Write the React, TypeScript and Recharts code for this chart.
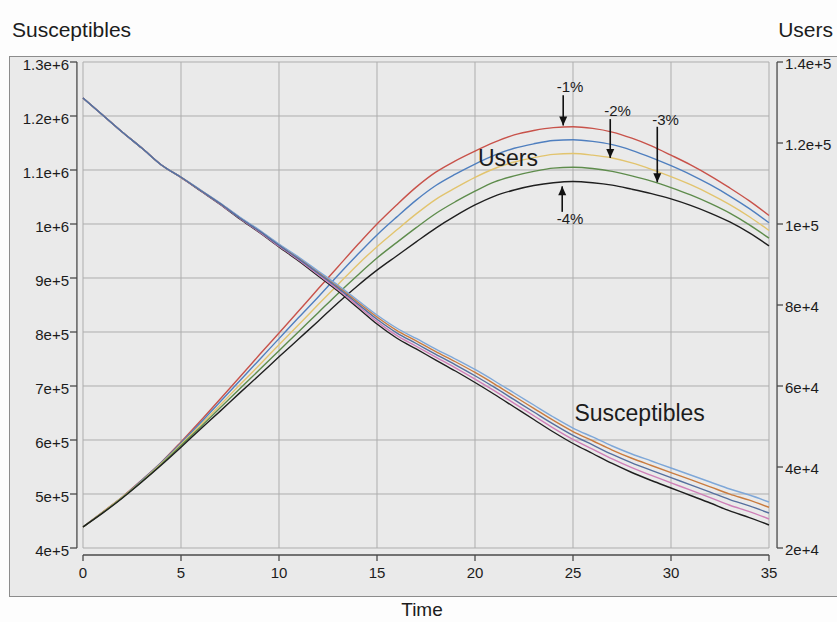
import { LineChart, Line, XAxis, YAxis, CartesianGrid, ReferenceLine, ReferenceDot } from 'recharts'

const TIME = [0, 1, 2, 3, 4, 5, 6, 7, 8, 9, 10, 11, 12, 13, 14, 15, 16, 17, 18, 19, 20, 21, 22, 23, 24, 25, 26, 27, 28, 29, 30, 31, 32, 33, 34, 35]

// Users (right axis)
const U_RED = [25200, 28900, 32600, 36800, 41200, 46200, 51400, 56800, 62200, 67700, 73100, 78500, 84000, 89400, 94800, 100000, 104700, 109100, 112800, 115600, 118000, 120200, 122000, 123100, 123800, 124000, 123600, 122700, 121200, 119300, 117000, 114600, 111900, 108900, 105700, 102100]
const U_BLUE = [25200, 28800, 32500, 36700, 41100, 45900, 50900, 56100, 61300, 66500, 71700, 76900, 82000, 87300, 92400, 97300, 101700, 105900, 109500, 112300, 114800, 117000, 118700, 119800, 120600, 120800, 120400, 119600, 118200, 116400, 114400, 112200, 109700, 106900, 103800, 100300]
const U_YELLOW = [25200, 28800, 32500, 36500, 40900, 45600, 50400, 55300, 60300, 65200, 70200, 75100, 80100, 85000, 89900, 94400, 98500, 102500, 106100, 108900, 111500, 113700, 115300, 116400, 117200, 117400, 117000, 116300, 115100, 113500, 111700, 109700, 107400, 104800, 101800, 98400]
const U_GREEN = [25200, 28700, 32400, 36400, 40700, 45300, 49900, 54600, 59300, 64000, 68700, 73400, 78100, 82800, 87300, 91600, 95400, 99100, 102600, 105500, 108100, 110400, 111900, 113000, 113800, 114000, 113700, 113000, 111900, 110600, 109000, 107200, 105100, 102700, 99800, 96500]
const U_BLACK = [25200, 28600, 32300, 36300, 40500, 44900, 49400, 53800, 58300, 62700, 67200, 71600, 76000, 80500, 84700, 88600, 92100, 95600, 99000, 102000, 104700, 106900, 108400, 109500, 110200, 110500, 110200, 109600, 108600, 107500, 106200, 104600, 102700, 100500, 97800, 94600]

// Susceptibles (left axis)
const S_LIGHTBLUE = [1233300, 1201900, 1170400, 1140700, 1109300, 1087000, 1063000, 1038900, 1013000, 988900, 963000, 938900, 913000, 887000, 859300, 831500, 807400, 788000, 768500, 750000, 730600, 709300, 687000, 664800, 642600, 622200, 605600, 588900, 574100, 561100, 548100, 535200, 522200, 509300, 498100, 485200]
const S_ORANGE = [1233300, 1201900, 1170400, 1140700, 1109300, 1086800, 1062600, 1038300, 1012100, 987800, 961700, 937200, 910900, 884400, 856100, 827700, 803100, 783500, 763800, 744900, 725100, 703600, 681000, 658600, 636200, 615600, 598600, 581400, 566200, 552800, 539600, 526500, 513300, 499900, 488500, 475400]
const S_BLUE = [1233300, 1201900, 1170400, 1140700, 1109300, 1086600, 1062100, 1037600, 1011200, 986700, 960300, 935300, 908600, 881700, 852600, 823500, 798500, 778700, 758700, 739300, 719000, 697300, 674600, 651900, 629300, 608400, 590900, 573300, 557700, 543800, 530300, 517000, 503500, 489700, 478100, 464800]
const S_PINK = [1233300, 1201900, 1170400, 1140700, 1109300, 1086300, 1061600, 1036800, 1010300, 985500, 958900, 933400, 906100, 878800, 849000, 819200, 793700, 773600, 753400, 733600, 712800, 690800, 667800, 644900, 622000, 601000, 583000, 564900, 548700, 534400, 520700, 507100, 493400, 479200, 467300, 453700]
const S_BLACK = [1233300, 1201900, 1170400, 1140700, 1109300, 1086100, 1061100, 1036100, 1009300, 984300, 957400, 931500, 903700, 875900, 845400, 814800, 788900, 768600, 748100, 727800, 706500, 684300, 661100, 637900, 614800, 593500, 575000, 556500, 539800, 525000, 511100, 497200, 483300, 468600, 456400, 442600]

const T_TICKS = [0, 5, 10, 15, 20, 25, 30, 35]
const S_TICKS = [400000, 500000, 600000, 700000, 800000, 900000, 1000000, 1100000, 1200000, 1300000]
const U_TICKS = [20000, 40000, 60000, 80000, 100000, 120000, 140000]

// annotation arrows (on the Users axis)
const ARROW_LABELS = ['-1%', '-2%', '-3%', '-4%']
const ARROW_T = [24.5, 26.9, 29.3, 24.45]
const ARROW_TAIL = [131800, 125900, 124000, 103000]
const ARROW_TIP = [124300, 116300, 110300, 109300]
const LABEL_T = [24.85, 27.27, 29.72, 24.85]
const LABEL_V = [133900, 128000, 125900, 101400]

const FONT = '"Liberation Sans", Arial, sans-serif'
const AXIS = '#4a4a4a'
const TEXT = '#1c1c1c'

const data = TIME.map((t, i) => ({
  t,
  uRed: U_RED[i],
  uBlue: U_BLUE[i],
  uYellow: U_YELLOW[i],
  uGreen: U_GREEN[i],
  uBlack: U_BLACK[i],
  sLight: S_LIGHTBLUE[i],
  sOrange: S_ORANGE[i],
  sBlue: S_BLUE[i],
  sPink: S_PINK[i],
  sBlack: S_BLACK[i],
}))

const sci = (v: number) => v.toExponential()

function LeftTick(props: any) {
  const { x, y, payload } = props
  return (
    <g>
      <line x1={x - 13} x2={x - 6} y1={y} y2={y} stroke={AXIS} strokeWidth={1.3} />
      <text x={x - 14} y={y + 8} textAnchor="end" fontSize={15} fontFamily={FONT} fill={TEXT}>
        {sci(payload.value)}
      </text>
    </g>
  )
}

function RightTick(props: any) {
  const { x, y, payload } = props
  return (
    <g>
      <line x1={x + 8} x2={x + 14} y1={y} y2={y} stroke={AXIS} strokeWidth={1.3} />
      <text x={x + 16} y={y + 7} textAnchor="start" fontSize={15} fontFamily={FONT} fill={TEXT}>
        {sci(payload.value)}
      </text>
    </g>
  )
}

function BottomTick(props: any) {
  const { x, y, payload } = props
  return (
    <g>
      <line x1={x} x2={x} y1={y + 7} y2={y + 13} stroke={AXIS} strokeWidth={1.3} />
      <text x={x} y={y + 30} textAnchor="middle" fontSize={15} fontFamily={FONT} fill={TEXT}>
        {payload.value}
      </text>
    </g>
  )
}

const textShape = (txt: string, size: number) => (p: any) => (
  <text x={p.cx} y={p.cy} textAnchor="middle" dominantBaseline="central" fontSize={size} fontFamily={FONT} fill={TEXT}>
    {txt}
  </text>
)

const headShape = (up: boolean) => (p: any) => {
  const d = up ? 9 : -9
  return <path d={`M${p.cx},${p.cy} L${p.cx - 4},${p.cy + d} L${p.cx + 4},${p.cy + d} Z`} fill="#111" />
}

export default function App() {
  return (
    <div style={{ position: 'relative', width: 837, height: 622, background: '#fdfdfd', overflow: 'hidden', fontFamily: FONT }}>
      <style>{'body{margin:0}'}</style>
      <div
        style={{
          position: 'absolute',
          left: 9,
          top: 56,
          width: 840,
          height: 541,
          background: '#eaeaea',
          border: '1.5px solid #8c8c8c',
          boxSizing: 'border-box',
        }}
      />
      <div style={{ position: 'absolute', left: 12, top: 18, fontSize: 21, color: TEXT }}>Susceptibles</div>
      <div style={{ position: 'absolute', right: 4, top: 18, fontSize: 21, color: TEXT }}>Users</div>
      <div style={{ position: 'absolute', left: 372, width: 100, top: 599, fontSize: 19, color: TEXT, textAlign: 'center' }}>Time</div>

      <LineChart
        width={837}
        height={622}
        data={data}
        margin={{ top: 62, right: 8, bottom: 34, left: 10 }}
        style={{ position: 'absolute', left: 0, top: 0 }}
      >
        <CartesianGrid stroke="#adadad" strokeWidth={1} />
        <XAxis
          dataKey="t"
          type="number"
          domain={[0, 35]}
          ticks={T_TICKS}
          interval={0}
          height={40}
          axisLine={false}
          tickLine={false}
          tickSize={0}
          tickMargin={0}
          tick={<BottomTick />}
        />
        <YAxis
          domain={[400000, 1300000]}
          ticks={S_TICKS}
          interval={0}
          width={73}
          axisLine={false}
          tickLine={false}
          tickSize={0}
          tickMargin={0}
          tick={<LeftTick />}
        />
        <YAxis
          yAxisId="right"
          orientation="right"
          domain={[20000, 140000]}
          ticks={U_TICKS}
          interval={0}
          width={60}
          axisLine={false}
          tickLine={false}
          tickSize={0}
          tickMargin={0}
          tick={<RightTick />}
        />

        {/* offset axis lines */}
        <ReferenceLine x={-0.31} stroke={AXIS} strokeWidth={1.3} ifOverflow="visible" />
        <ReferenceLine x={35.41} stroke={AXIS} strokeWidth={1.3} ifOverflow="visible" />
        <ReferenceLine y={387000} stroke={AXIS} strokeWidth={1.3} ifOverflow="visible" />

        <Line yAxisId="right" type="monotone" dataKey="uRed" stroke="#c8524a" strokeWidth={1.4} dot={false} isAnimationActive={false} />
        <Line yAxisId="right" type="monotone" dataKey="uBlue" stroke="#4f7fbf" strokeWidth={1.4} dot={false} isAnimationActive={false} />
        <Line yAxisId="right" type="monotone" dataKey="uYellow" stroke="#e2c46e" strokeWidth={1.4} dot={false} isAnimationActive={false} />
        <Line yAxisId="right" type="monotone" dataKey="uGreen" stroke="#5e8c4c" strokeWidth={1.4} dot={false} isAnimationActive={false} />
        <Line yAxisId="right" type="monotone" dataKey="uBlack" stroke="#1f1f1f" strokeWidth={1.4} dot={false} isAnimationActive={false} />

        <Line type="monotone" dataKey="sBlack" stroke="#1f1f1f" strokeWidth={1.4} dot={false} isAnimationActive={false} />
        <Line type="monotone" dataKey="sPink" stroke="#cf7fb8" strokeWidth={1.4} dot={false} isAnimationActive={false} />
        <Line type="monotone" dataKey="sOrange" stroke="#c97b3f" strokeWidth={1.4} dot={false} isAnimationActive={false} />
        <Line type="monotone" dataKey="sLight" stroke="#7ea7d8" strokeWidth={1.4} dot={false} isAnimationActive={false} />
        <Line type="monotone" dataKey="sBlue" stroke="#566f9e" strokeWidth={1.4} dot={false} isAnimationActive={false} />

        {ARROW_LABELS.map((lab, i) => (
          <ReferenceLine
            key={'shaft' + i}
            yAxisId="right"
            segment={[
              { x: ARROW_T[i], y: ARROW_TAIL[i] },
              { x: ARROW_T[i], y: ARROW_TIP[i] },
            ]}
            stroke="#111"
            strokeWidth={1.6}
          />
        ))}
        {ARROW_LABELS.map((lab, i) => (
          <ReferenceDot
            key={'head' + i}
            yAxisId="right"
            x={ARROW_T[i]}
            y={ARROW_TIP[i]}
            shape={headShape(ARROW_TIP[i] > ARROW_TAIL[i])}
          />
        ))}
        {ARROW_LABELS.map((lab, i) => (
          <ReferenceDot key={'lab' + i} yAxisId="right" x={LABEL_T[i]} y={LABEL_V[i]} shape={textShape(lab, 15)} />
        ))}
        <ReferenceDot yAxisId="right" x={21.68} y={116300} shape={textShape('Users', 23)} />
        <ReferenceDot x={28.4} y={650000} shape={textShape('Susceptibles', 23)} />
      </LineChart>
    </div>
  )
}
